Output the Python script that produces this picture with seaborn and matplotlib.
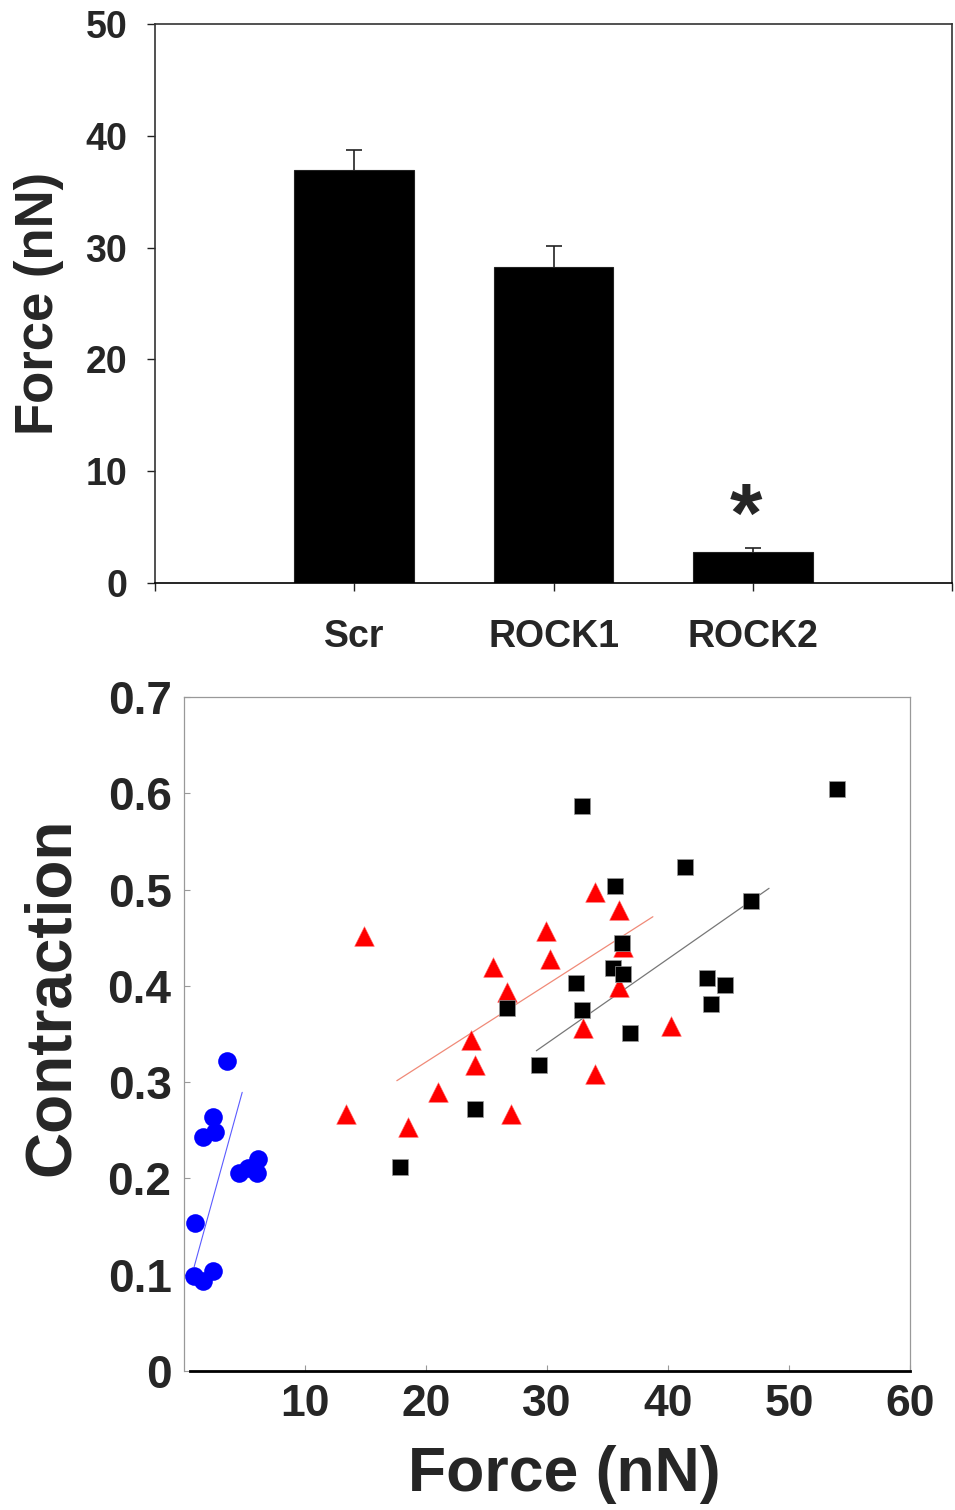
import matplotlib
matplotlib.use("Agg")
import matplotlib.pyplot as plt
import seaborn as sns
import pandas as pd
import numpy as np

# ---------------- data ----------------
categories = ["Scr", "ROCK1", "ROCK2"]
force_mean = [36.9, 28.3, 2.8]
force_err = [1.8, 1.8, 0.35]

blue_force = [3.57, 2.41, 2.55, 1.53, 4.56, 5.31, 6.08, 6.05, 0.89, 0.84, 1.58, 2.41]
blue_contr = [0.322, 0.2635, 0.2485, 0.2433, 0.206, 0.2105, 0.220, 0.2053, 0.154, 0.0987, 0.0935, 0.104]

red_force = [14.91, 33.95, 35.94, 29.95, 30.28, 25.5, 26.7, 36.27, 35.94, 32.96,
             23.72, 24.02, 33.95, 21.03, 13.39, 27.0, 18.55, 40.22]
red_contr = [0.4518, 0.4971, 0.4788, 0.4573, 0.4276, 0.4193, 0.3939, 0.4406, 0.3991, 0.3559,
             0.3438, 0.3178, 0.3084, 0.2901, 0.2666, 0.2666, 0.2531, 0.3586]

black_force = [32.91, 53.96, 41.37, 35.58, 46.84, 36.22, 35.44, 36.24, 32.43, 43.22,
               44.69, 43.53, 32.93, 36.9, 26.7, 29.31, 24.02, 17.89]
black_contr = [0.5871, 0.6047, 0.5237, 0.5037, 0.4878, 0.4442, 0.4182, 0.4123, 0.4026, 0.4085,
               0.4006, 0.3808, 0.3749, 0.3507, 0.3767, 0.3178, 0.2718, 0.2122]

# fitted trend lines (end points)
blue_fit_x = [0.84, 4.81]
blue_fit_y = [0.1083, 0.2894]
red_fit_x = [17.59, 38.75]
red_fit_y = [0.3015, 0.4718]
black_fit_x = [29.12, 48.35]
black_fit_y = [0.3326, 0.5013]

y_ticks_top = [0, 10, 20, 30, 40, 50]
x_ticks_sc = [10, 20, 30, 40, 50, 60]
y_ticks_sc = [0, 0.1, 0.2, 0.3, 0.4, 0.5, 0.6, 0.7]
y_ticklabels_sc = ["0", "0.1", "0.2", "0.3", "0.4", "0.5", "0.6", "0.7"]

# ---------------- style ----------------
sns.set_theme(style="white")
plt.rcParams["font.family"] = ["Liberation Sans", "DejaVu Sans"]
plt.rcParams["font.weight"] = "bold"
plt.rcParams["axes.labelweight"] = "bold"

fig = plt.figure(figsize=(9.55, 15.1), dpi=100)

# ---------------- top bar chart ----------------
ax1 = fig.add_axes([155 / 955, 1 - 583 / 1510, 797 / 955, 559 / 1510])
bar_df = pd.DataFrame({"cond": categories, "force": force_mean})
sns.barplot(data=bar_df, x="cond", y="force", order=categories, color="black",
            saturation=1, width=0.6, errorbar=None, ax=ax1,
            edgecolor="#222222", linewidth=0.8)
pos = np.arange(len(categories))
eb = ax1.errorbar(pos, force_mean, yerr=[np.zeros(len(force_err)), force_err], fmt="none",
                  ecolor="#222222", elinewidth=1.2, capsize=6, capthick=1.2, zorder=1)
# keep only the upper caps
eb[1][0].set_visible(False)
ax1.set_xlim(-1, 3)
ax1.set_ylim(0, 50)
ax1.set_xticks([-1, 0, 1, 2, 3])
ax1.set_xticklabels(["", "Scr", "ROCK1", "ROCK2", ""], fontsize=27, fontweight="bold")
ax1.set_yticks(y_ticks_top)
ax1.set_yticklabels([str(v) for v in y_ticks_top], fontsize=27, fontweight="bold")
ax1.tick_params(axis="both", direction="out", length=6, width=1.0, color="#222222")
ax1.tick_params(axis="y", pad=14, left=True)
ax1.tick_params(axis="x", pad=20, bottom=True)
for s in ["left", "top", "right", "bottom"]:
    ax1.spines[s].set_visible(True)
    ax1.spines[s].set_color("#333333")
    ax1.spines[s].set_linewidth(1.2)
ax1.spines["bottom"].set_color("black")
ax1.set_xlabel("")
ax1.set_ylabel("Force (nN)", fontsize=38, fontweight="bold")
ax1.yaxis.set_label_coords(-0.114, 0.5)
ax1.text(1.965, 2.2, "*", fontsize=60, fontweight="bold", ha="center", va="bottom")

# ---------------- bottom scatter ----------------
ax2 = fig.add_axes([184 / 955, 1 - 1371 / 1510, 726 / 955, 674 / 1510])
ax2.set_xlim(0, 60)
ax2.set_ylim(0, 0.7)

sns.lineplot(x=blue_fit_x, y=blue_fit_y, color="#5b5bff", linewidth=0.8, ax=ax2, zorder=2)
sns.lineplot(x=red_fit_x, y=red_fit_y, color="#f08a78", linewidth=0.9, ax=ax2, zorder=2)
sns.lineplot(x=black_fit_x, y=black_fit_y, color="#777777", linewidth=0.9, ax=ax2, zorder=2)

sns.scatterplot(x=blue_force, y=blue_contr, marker="o", color="#0000ff", s=180,
                edgecolor="#0000ff", linewidth=0, ax=ax2, zorder=3)
sns.scatterplot(x=red_force, y=red_contr, marker="^", color="#ff0000", s=200,
                edgecolor="#ff6666", linewidth=0.4, ax=ax2, zorder=4)
sns.scatterplot(x=black_force, y=black_contr, marker="s", color="black", s=140,
                edgecolor="#999999", linewidth=0.5, ax=ax2, zorder=5)

ax2.set_xticks(x_ticks_sc)
ax2.set_xticklabels([str(v) for v in x_ticks_sc], fontsize=32, fontweight="bold")
ax2.set_yticks(y_ticks_sc)
ax2.set_yticklabels(y_ticklabels_sc, fontsize=33, fontweight="bold")
ax2.tick_params(axis="both", direction="in", length=4.5, width=0.8, color="#999999")
ax2.tick_params(axis="y", pad=9, left=True)
ax2.tick_params(axis="x", pad=9, bottom=True)
for s in ["left", "top", "right"]:
    ax2.spines[s].set_visible(True)
    ax2.spines[s].set_color("#999999")
    ax2.spines[s].set_linewidth(0.9)
ax2.spines["bottom"].set_visible(True)
ax2.spines["bottom"].set_color("black")
ax2.spines["bottom"].set_linewidth(2.0)
ax2.spines["bottom"].set_bounds(0.5, 60)
ax2.set_xlabel("Force (nN)", fontsize=45, fontweight="bold")
ax2.set_ylabel("Contraction", fontsize=46, fontweight="bold")
ax2.xaxis.set_label_coords(0.524, -0.11)
ax2.yaxis.set_label_coords(-0.14, 0.556)

fig.savefig("out.png", dpi=100)
